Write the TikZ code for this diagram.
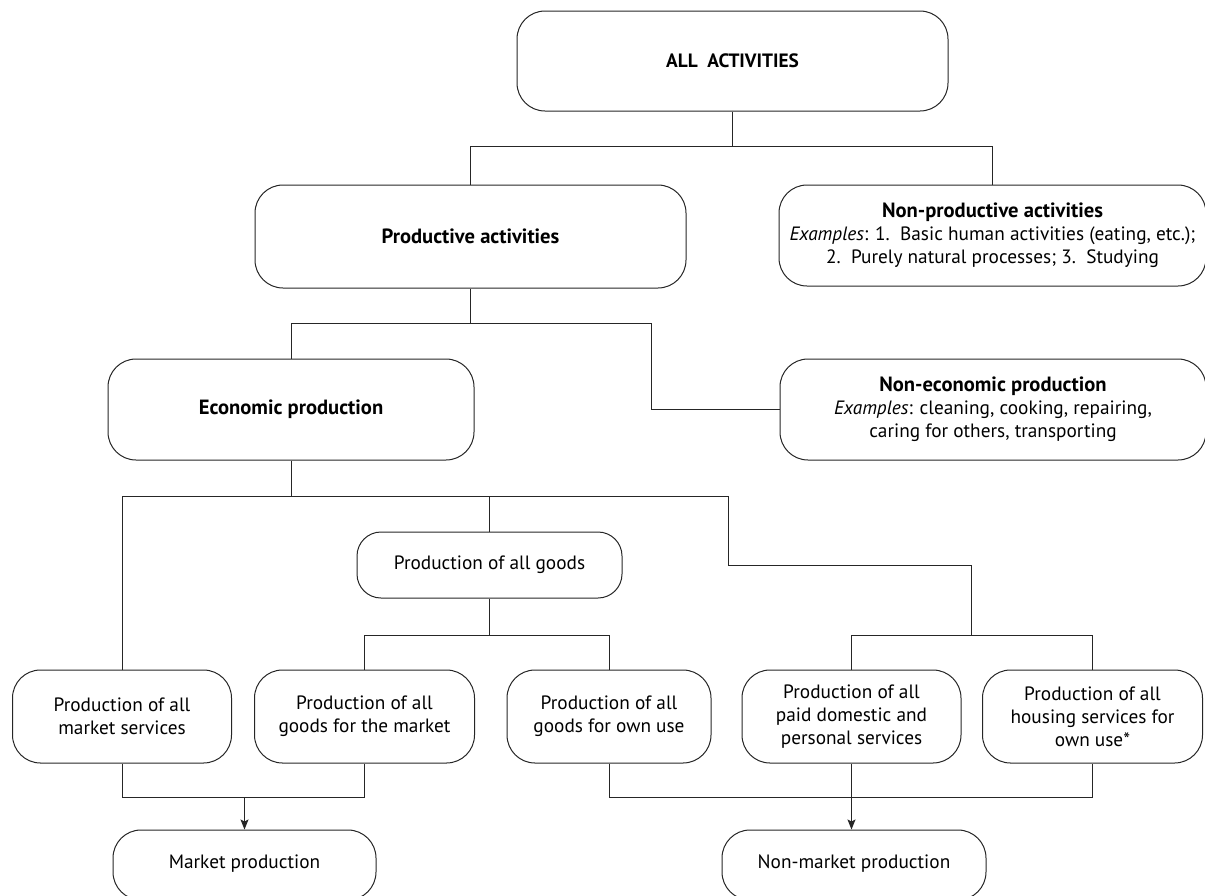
\documentclass[tikz,border=0pt]{standalone}
\usepackage{fontspec}
\setmainfont{PT Sans}
\usetikzlibrary{arrows.meta}
\newcommand{\btitle}[1]{{\fontsize{20.6}{23}\selectfont\bfseries #1}}
\begin{document}
\begin{tikzpicture}[x=1pt,y=-1pt,
  box/.style={draw=black!85, line width=1pt, rounded corners=28pt, align=center,
    font=\fontsize{19.3}{23}\selectfont, inner sep=0pt},
  conn/.style={draw=black!85, line width=1pt},
  arr/.style={conn, -{Stealth[length=10pt,width=8pt,inset=2pt]}}]
\useasboundingbox (0,0) rectangle (1205,895);
% nodes
\node[box, minimum width=431, minimum height=100] (all) at (732.5,61) {\textbf{ALL\ \ ACTIVITIES}};
\node[box, minimum width=431, minimum height=103] (prod) at (470.5,236.5) {\btitle{Productive activities}};
\node[box, minimum width=427, minimum height=101] (nonprod) at (992.5,235.5)
  {\btitle{Non-productive activities}\\\textit{Examples}: 1.\ \ Basic human activities (eating, etc.);\\2.\ \ Purely natural processes; 3.\ \ Studying};
\node[box, minimum width=366, minimum height=101] (econ) at (291,409.5) {\btitle{Economic production}};
\node[box, minimum width=426, minimum height=101] (nonecon) at (993,409.5)
  {\btitle{Non-economic production}\\\textit{Examples}: cleaning, cooking, repairing,\\caring for others, transporting};
\node[box, minimum width=265, minimum height=66, rounded corners=24pt] (goods) at (489.5,565) {Production of all goods};
\node[box, minimum width=219, minimum height=93] (ms) at (122,716.5) {Production of all\\market services};
\node[box, minimum width=220, minimum height=93] (gm) at (364.5,716.5) {Production of all\\goods for the market};
\node[box, minimum width=204, minimum height=93] (gu) at (609,716.5) {Production of all\\goods for own use};
\node[box, minimum width=219, minimum height=93] (pd) at (851.5,716.5) {Production of all\\paid domestic and\\personal services};
\node[box, minimum width=220, minimum height=93] (hs) at (1092.5,716.5) {Production of all\\housing services for\\own use*};
\node[box, minimum width=263, minimum height=70, text height=16pt, text depth=10pt] (mp) at (244.5,865) {Market production};
\node[box, minimum width=264, minimum height=70, text height=16pt, text depth=10pt] (nm) at (854,865) {Non-market production};
% junction coordinates
\coordinate (j1) at (732.5,146);
\coordinate (j2) at (470.5,323);
\coordinate (c2) at (651,323);
\coordinate (j3) at (291,496);
\coordinate (c3) at (728,496);
\coordinate (c4) at (728,565);
\coordinate (c5) at (971,565);
\coordinate (j5) at (971,635);
\coordinate (j4) at (489.5,635);
\coordinate (j6) at (244.5,797);
\coordinate (j7) at (851.5,797);
% connectors
\draw[conn] (all.south) -- (j1);
\draw[conn] (prod.north) -- (prod.north |- j1) -- (nonprod.north |- j1) -- (nonprod.north);
\draw[conn] (prod.south) -- (j2);
\draw[conn] (econ.north) -- (econ.north |- j2) -- (c2) -- (c2 |- nonecon.west) -- (nonecon.west);
\draw[conn] (econ.south) -- (j3);
\draw[conn] (ms.north) -- (ms.north |- j3) -- (c3) -- (c4) -- (c5) -- (j5);
\draw[conn] (goods.north) -- (goods.north |- j3);
\draw[conn] (pd.north) -- (pd.north |- j5) -- (hs.north |- j5) -- (hs.north);
\draw[conn] (goods.south) -- (j4);
\draw[conn] (gm.north) -- (gm.north |- j4) -- (gu.north |- j4) -- (gu.north);
\draw[conn] (ms.south) -- (ms.south |- j6) -- (gm.south |- j6) -- (gm.south);
\draw[arr] (j6) -- (mp.north);
\draw[conn] (gu.south) -- (gu.south |- j7) -- (hs.south |- j7) -- (hs.south);
\draw[conn] (pd.south) -- (j7);
\draw[arr] (j7) -- (j7 |- nm.north);
\end{tikzpicture}
\end{document}
